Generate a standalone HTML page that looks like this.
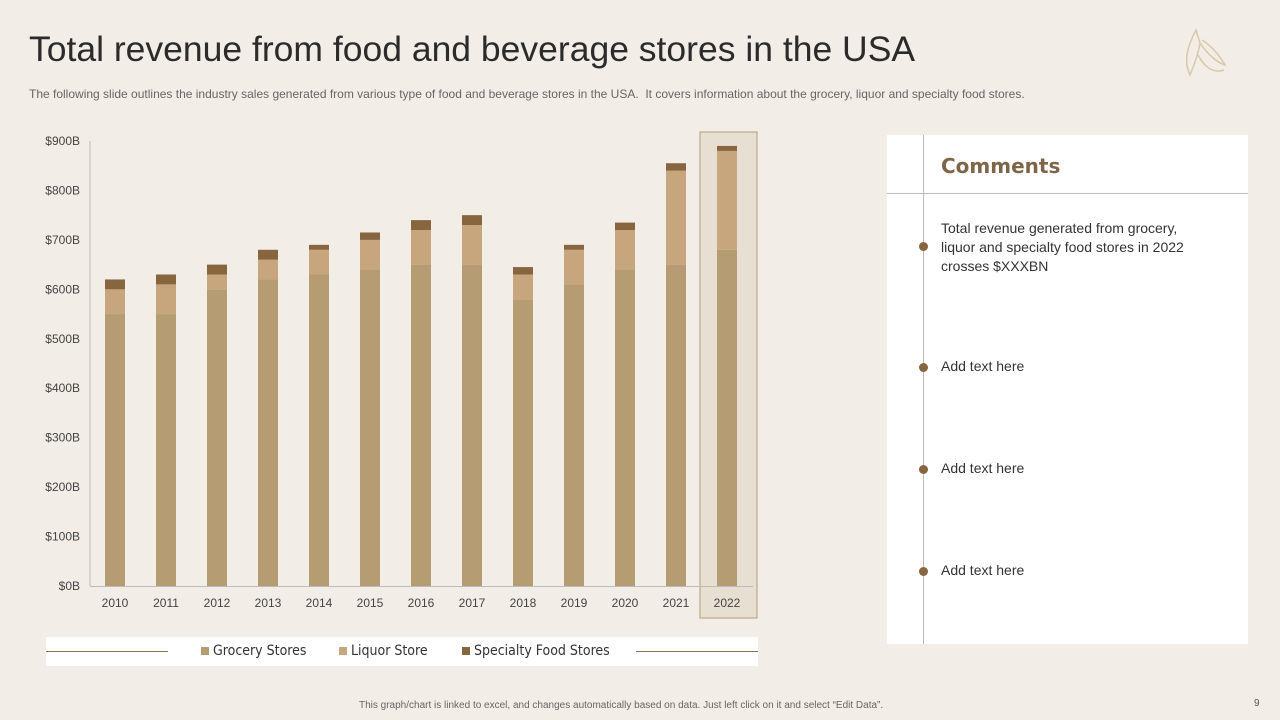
<!DOCTYPE html>
<html><head><meta charset="utf-8"><style>
body{margin:0;width:1280px;height:720px;background:#f2ede7;position:relative;overflow:hidden;font-family:"Liberation Sans",sans-serif}
.abs{position:absolute}
</style></head><body>
<div class="abs" style="left:29px;top:29px;font-size:35.5px;color:#2b2b2b;font-family:'Liberation Sans',sans-serif">Total revenue from food and beverage stores in the USA</div>
<div class="abs" style="left:29px;top:87px;font-size:12px;color:#666;letter-spacing:0px;white-space:nowrap">The following slide outlines the industry sales generated from various type of food and beverage stores in the USA.&nbsp; It covers information about the grocery, liquor and specialty food stores.</div>
<svg class="abs" style="left:1178px;top:25px" width="50" height="55"><g fill="none" stroke="#d9c9a8" stroke-width="1.5"><path d="M18 5 C10 20 5 35 12 50 C16 40 20 30 22 18Z"/><path d="M22 18 C30 30 40 38 47 40 C40 28 32 20 24 15"/><path d="M20 30 C28 45 38 48 46 45"/></g></svg>

<svg class="abs" id="chart" style="left:0;top:0" width="780" height="680"></svg>

<div class="abs" style="left:46px;top:637px;width:712px;height:29px;background:#fff">
<div class="abs" style="left:0;top:14px;width:122px;height:1px;background:#8a7550"></div>
<div class="abs" style="left:590px;top:14px;width:122px;height:1px;background:#8a7550"></div>
<div class="abs" style="left:155px;top:6px;font-size:14px;color:#333;font-family:'DejaVu Sans Condensed','Liberation Sans Narrow',sans-serif"><span style="display:inline-block;width:8px;height:8px;background:#b59c73;margin-right:4px"></span>Grocery Stores</div>
<div class="abs" style="left:293px;top:6px;font-size:14px;color:#333;font-family:'DejaVu Sans Condensed','Liberation Sans Narrow',sans-serif"><span style="display:inline-block;width:8px;height:8px;background:#c7a67e;margin-right:4px"></span>Liquor Store</div>
<div class="abs" style="left:416px;top:6px;font-size:14px;color:#333;font-family:'DejaVu Sans Condensed','Liberation Sans Narrow',sans-serif"><span style="display:inline-block;width:8px;height:8px;background:#86653f;margin-right:4px"></span>Specialty Food Stores</div>
</div>

<div class="abs" style="left:887px;top:135px;width:361px;height:509px;background:#fff">
<div class="abs" style="left:36px;top:0;width:1px;height:509px;background:#bbb"></div>
<div class="abs" style="left:0;top:58px;width:361px;height:1px;background:#bbb"></div>
<div class="abs" style="left:54px;top:19px;font-size:20px;font-weight:bold;color:#7d6648;font-family:'DejaVu Sans','Liberation Sans',sans-serif">Comments</div>
<div class="abs" style="left:32px;top:107px;width:9px;height:9px;border-radius:50%;background:#86653f"></div>
<div class="abs" style="left:54px;top:84px;width:270px;font-size:14px;line-height:19px;color:#333">Total revenue generated from grocery, liquor and specialty food stores in 2022 crosses $XXXBN</div>
<div class="abs" style="left:32px;top:228px;width:9px;height:9px;border-radius:50%;background:#86653f"></div>
<div class="abs" style="left:54px;top:223px;font-size:14px;color:#333">Add text here</div>
<div class="abs" style="left:32px;top:330px;width:9px;height:9px;border-radius:50%;background:#86653f"></div>
<div class="abs" style="left:54px;top:325px;font-size:14px;color:#333">Add text here</div>
<div class="abs" style="left:32px;top:432px;width:9px;height:9px;border-radius:50%;background:#86653f"></div>
<div class="abs" style="left:54px;top:427px;font-size:14px;color:#333">Add text here</div>
</div>

<div class="abs" style="left:359px;top:700px;font-size:10px;color:#666">This graph/chart is linked to excel, and changes automatically based on data. Just left click on it and select “Edit Data”.</div>
<div class="abs" style="left:1254px;top:698px;font-size:10px;color:#555">9</div>

<script>
const years=["2010","2011","2012","2013","2014","2015","2016","2017","2018","2019","2020","2021","2022"];
const grocery=[550,550,600,620,630,640,650,650,580,610,640,650,680];
const liquor=[50,60,30,40,50,60,70,80,50,70,80,190,200];
const specialty=[20,20,20,20,10,15,20,20,15,10,15,15,10];
const yTicks=[0,100,200,300,400,500,600,700,800,900];
const NS="http://www.w3.org/2000/svg";
const svg=document.getElementById('chart');
const y0=586,y1=141,vmax=900;
const yS=v=>y0-(v/vmax)*(y0-y1);
const xS=i=>115+i*51;
const bw=20;
function mk(t,a){const e=document.createElementNS(NS,t);for(const k in a)e.setAttribute(k,a[k]);svg.appendChild(e);return e;}
const hl=mk('rect',{x:xS(years.length-1)-27,y:132,width:57,height:486,fill:'#e8dfd3',stroke:'#b59c73','stroke-width':1});


const ax=mk('line',{x1:90,y1:141,x2:90,y2:y0,stroke:'#bbb'});


const xa=mk('line',{x1:90,y1:y0+.5,x2:753,y2:y0+.5,stroke:'#bbb'});


yTicks.forEach(v=>{const t=mk('text',{x:80,y:yS(v)+4,'text-anchor':'end','font-size':12,fill:'#444','font-family':'Liberation Sans'});t.textContent='$'+v+'B';

});
years.forEach((yr,i)=>{
 const x=xS(i)-bw/2;
 const segs=[[0,grocery[i],'#b59c73','bar-grocery'],[grocery[i],grocery[i]+liquor[i],'#c7a67e','bar-liquor'],[grocery[i]+liquor[i],grocery[i]+liquor[i]+specialty[i],'#86653f','bar-specialty']];
 segs.forEach(s=>{const r=mk('rect',{x:x,y:yS(s[1]),width:bw,height:yS(s[0])-yS(s[1]),fill:s[2]});
 
 });
 const t=mk('text',{x:xS(i),y:607,'text-anchor':'middle','font-size':12,fill:'#444','font-family':'Liberation Sans'});t.textContent=yr;
 
 
});
</script>
</body></html>
